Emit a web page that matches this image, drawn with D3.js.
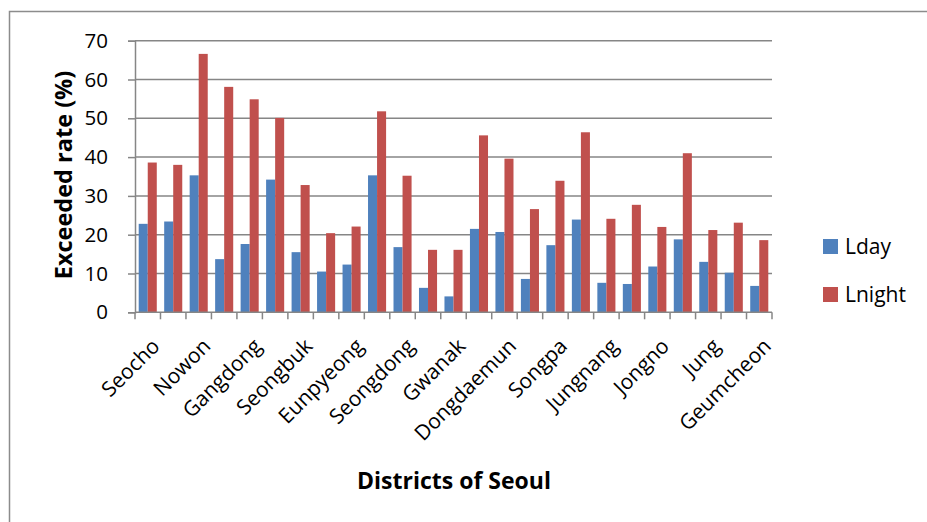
<!DOCTYPE html>
<html>
<head>
<meta charset="utf-8">
<script src="https://cdn.jsdelivr.net/npm/d3@7"></script>
<style>
  body { margin: 0; background: #fff; }
  svg text { font-family: "Open Sans", Calibri, sans-serif; fill: #000; }
</style>
</head>
<body>
<svg id="chart" width="927" height="522"></svg>
<script>
// districts (only every other label is printed, as in the original)
const districts = ["Seocho", "Gangnam", "Nowon", "Dobong", "Gangdong", "Gwangjin", "Seongbuk", "Gangbuk",
  "Eunpyeong", "Mapo", "Seongdong", "Guro", "Gwanak", "Dongjak", "Dongdaemun", "Yangcheon",
  "Songpa", "Gangseo", "Jungnang", "Seodaemun", "Jongno", "Yeongdeungpo", "Jung", "Yongsan", "Geumcheon"];
const lday = [22.8, 23.4, 35.3, 13.7, 17.6, 34.2, 15.5, 10.5, 12.3, 35.3, 16.8, 6.3, 4.1,
  21.5, 20.7, 8.6, 17.3, 23.9, 7.6, 7.3, 11.8, 18.8, 13.0, 10.2, 6.8];
const lnight = [38.6, 38.0, 66.6, 58.1, 54.9, 50.1, 32.8, 20.4, 22.1, 51.8, 35.2, 16.1, 16.1,
  45.6, 39.6, 26.6, 33.9, 46.4, 24.1, 27.7, 22.0, 41.0, 21.2, 23.1, 18.6];
const seriesNames = ["Lday", "Lnight"];
const seriesColors = ["#4f81bd", "#c0504d"];
const yTicks = [0, 10, 20, 30, 40, 50, 60, 70];

const svg = d3.select("#chart");

// outer chart frame
svg.append("rect")
  .attr("x", 9.5).attr("y", 11.5)
  .attr("width", 940).attr("height", 540)
  .attr("fill", "none")
  .attr("stroke", "#8c8c8c")
  .attr("stroke-width", 1.5);

const plotLeft = 135, plotRight = 772, plotTop = 40.7, plotBottom = 312.3;

const x = d3.scaleBand()
  .domain(districts)
  .range([plotLeft, plotRight])
  .paddingInner(0)
  .paddingOuter(0);

const x1 = d3.scaleBand()
  .domain(seriesNames)
  .range([0, x.bandwidth()])
  .paddingInner(0)
  .paddingOuter(0.41);

const y = d3.scaleLinear()
  .domain([0, 70])
  .range([plotBottom, plotTop]);

// gridlines
svg.append("g")
  .selectAll("line")
  .data(yTicks.slice(1))
  .enter().append("line")
    .attr("x1", plotLeft).attr("x2", plotRight)
    .attr("y1", d => y(d)).attr("y2", d => y(d))
    .attr("stroke", "#868686")
    .attr("stroke-width", 1.5);

// bars
const rows = districts.map((d, i) => ({district: d, values: [lday[i], lnight[i]]}));
const group = svg.append("g")
  .selectAll("g")
  .data(rows)
  .enter().append("g")
    .attr("transform", d => `translate(${x(d.district)},0)`);

group.selectAll("rect")
  .data(d => d.values.map((v, k) => ({key: seriesNames[k], value: v, color: seriesColors[k]})))
  .enter().append("rect")
    .attr("x", d => x1(d.key))
    .attr("width", x1.bandwidth())
    .attr("y", d => y(d.value))
    .attr("height", d => y(0) - y(d.value))
    .attr("fill", d => d.color);

// y axis
const yAxis = svg.append("g")
  .attr("transform", `translate(${plotLeft},0)`)
  .call(d3.axisLeft(y).tickValues(yTicks).tickSize(7).tickPadding(20));
yAxis.select(".domain").attr("stroke", "#868686").attr("stroke-width", 1.5);
yAxis.selectAll(".tick line").attr("stroke", "#868686").attr("stroke-width", 1.5);
yAxis.selectAll(".tick text")
  .style("font-size", "20.5px")
  .style("font-family", "'Open Sans', Calibri, sans-serif")
  .attr("fill", "#000");

// x axis: line plus ticks at category boundaries
const xAxis = svg.append("g");
xAxis.append("line")
  .attr("x1", plotLeft).attr("x2", plotRight)
  .attr("y1", plotBottom).attr("y2", plotBottom)
  .attr("stroke", "#868686").attr("stroke-width", 1.5);
xAxis.selectAll("line.tk")
  .data(districts.concat(["_end"]))
  .enter().append("line")
    .attr("class", "tk")
    .attr("x1", (d, i) => x.range()[0] + i * x.step())
    .attr("x2", (d, i) => x.range()[0] + i * x.step())
    .attr("y1", plotBottom).attr("y2", plotBottom + 7)
    .attr("stroke", "#868686").attr("stroke-width", 1.5);

xAxis.selectAll("text")
  .data(districts.filter((d, i) => i % 2 === 0))
  .enter().append("text")
    .attr("transform", d => `translate(${x(d) + x.bandwidth() / 2 + 8},${plotBottom + 30}) rotate(-45)`)
    .attr("text-anchor", "end")
    .attr("dy", "0.35em")
    .style("font-size", "21px")
    .text(d => d);

// axis titles
svg.append("text")
  .attr("transform", `translate(72,175) rotate(-90)`)
  .attr("text-anchor", "middle")
  .style("font-size", "23.5px")
  .style("font-weight", "bold")
  .text("Exceeded rate (%)");

svg.append("text")
  .attr("x", 454).attr("y", 489)
  .attr("text-anchor", "middle")
  .style("font-size", "23px")
  .style("font-weight", "bold")
  .text("Districts of Seoul");

// legend
const legend = svg.append("g")
  .selectAll("g")
  .data(seriesNames)
  .enter().append("g")
    .attr("transform", (d, i) => `translate(823,${239 + i * 48})`);
legend.append("rect")
  .attr("width", 15).attr("height", 15)
  .attr("fill", (d, i) => seriesColors[i]);
legend.append("text")
  .attr("x", 22).attr("y", 15)
  .style("font-size", "21px")
  .text(d => d);
</script>
</body>
</html>
